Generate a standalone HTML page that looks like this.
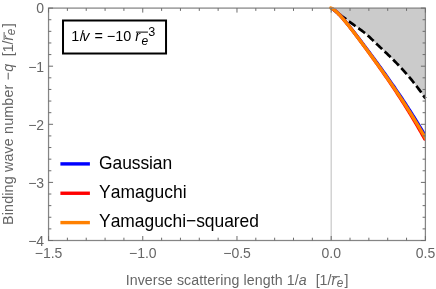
<!DOCTYPE html>
<html><head><meta charset="utf-8"><title>plot</title>
<style>
html,body{margin:0;padding:0;background:#fff;}
svg{display:block}
text{font-family:"Liberation Sans",sans-serif;font-kerning:none;}
</style></head>
<body>
<svg width="436" height="289" viewBox="0 0 436 289">
<defs><clipPath id="cp"><rect x="0" y="0" width="426" height="289"/></clipPath></defs>
<rect width="436" height="289" fill="#fff"/>
<path d="M331.00,8.20 L332.09,8.95 L333.18,9.72 L334.27,10.49 L335.34,11.26 L336.42,12.04 L337.49,12.83 L338.56,13.61 L339.63,14.41 L340.69,15.20 L341.75,16.00 L342.82,16.80 L343.88,17.59 L344.94,18.39 L346.00,19.19 L347.07,19.99 L348.13,20.78 L349.20,21.57 L350.26,22.36 L351.33,23.15 L352.41,23.93 L353.48,24.71 L354.56,25.49 L355.65,26.26 L356.73,27.03 L357.82,27.79 L358.90,28.56 L359.98,29.34 L361.06,30.12 L362.13,30.91 L363.18,31.71 L364.23,32.53 L365.26,33.37 L366.27,34.22 L367.27,35.09 L368.26,35.97 L369.25,36.87 L370.22,37.77 L371.19,38.68 L372.15,39.60 L373.11,40.52 L374.06,41.45 L375.02,42.37 L375.98,43.30 L376.94,44.22 L377.90,45.14 L378.87,46.05 L379.83,46.96 L380.80,47.87 L381.77,48.78 L382.74,49.69 L383.71,50.59 L384.68,51.50 L385.65,52.41 L386.61,53.32 L387.58,54.24 L388.54,55.15 L389.49,56.08 L390.45,57.00 L391.40,57.93 L392.34,58.86 L393.28,59.80 L394.22,60.74 L395.15,61.69 L396.08,62.64 L397.01,63.59 L397.93,64.55 L398.84,65.51 L399.76,66.48 L400.66,67.45 L401.57,68.43 L402.46,69.41 L403.36,70.39 L404.25,71.38 L405.13,72.37 L406.01,73.37 L406.88,74.37 L407.75,75.37 L408.62,76.38 L409.48,77.40 L410.33,78.41 L411.18,79.44 L412.02,80.46 L412.86,81.50 L413.70,82.53 L414.52,83.57 L415.35,84.62 L416.16,85.67 L416.97,86.72 L417.78,87.78 L418.58,88.84 L419.37,89.91 L420.16,90.98 L420.94,92.05 L421.71,93.13 L422.48,94.22 L423.25,95.31 L424.00,96.40 L424.76,97.50 L425.50,98.60 L425.4,8.1 L331.00,8.1 Z" fill="#cbcbcb"/>
<line x1="331.19" y1="8.1" x2="331.19" y2="240.5" stroke="#c8c8c8" stroke-width="1.2"/>
<path d="M331.00,8.20 L332.09,8.95 L333.18,9.72 L334.27,10.49 L335.34,11.26 L336.42,12.04 L337.49,12.83 L338.56,13.61 L339.63,14.41 L340.69,15.20 L341.75,16.00 L342.82,16.80 L343.88,17.59 L344.94,18.39 L346.00,19.19 L347.07,19.99 L348.13,20.78 L349.20,21.57 L350.26,22.36 L351.33,23.15 L352.41,23.93 L353.48,24.71 L354.56,25.49 L355.65,26.26 L356.73,27.03 L357.82,27.79 L358.90,28.56 L359.98,29.34 L361.06,30.12 L362.13,30.91 L363.18,31.71 L364.23,32.53 L365.26,33.37 L366.27,34.22 L367.27,35.09 L368.26,35.97 L369.25,36.87 L370.22,37.77 L371.19,38.68 L372.15,39.60 L373.11,40.52 L374.06,41.45 L375.02,42.37 L375.98,43.30 L376.94,44.22 L377.90,45.14 L378.87,46.05 L379.83,46.96 L380.80,47.87 L381.77,48.78 L382.74,49.69 L383.71,50.59 L384.68,51.50 L385.65,52.41 L386.61,53.32 L387.58,54.24 L388.54,55.15 L389.49,56.08 L390.45,57.00 L391.40,57.93 L392.34,58.86 L393.28,59.80 L394.22,60.74 L395.15,61.69 L396.08,62.64 L397.01,63.59 L397.93,64.55 L398.84,65.51 L399.76,66.48 L400.66,67.45 L401.57,68.43 L402.46,69.41 L403.36,70.39 L404.25,71.38 L405.13,72.37 L406.01,73.37 L406.88,74.37 L407.75,75.37 L408.62,76.38 L409.48,77.40 L410.33,78.41 L411.18,79.44 L412.02,80.46 L412.86,81.50 L413.70,82.53 L414.52,83.57 L415.35,84.62 L416.16,85.67 L416.97,86.72 L417.78,87.78 L418.58,88.84 L419.37,89.91 L420.16,90.98 L420.94,92.05 L421.71,93.13 L422.48,94.22 L423.25,95.31 L424.00,96.40 L424.76,97.50 L425.50,98.60" fill="none" stroke="#000" stroke-width="2.7" stroke-dasharray="8.24,3.47" stroke-dashoffset="1.18"/>
<g clip-path="url(#cp)" fill="none" stroke-linecap="round" stroke-linejoin="round">
<path d="M333.49,9.43 L334.18,9.92 L334.86,10.44 L335.55,11.00 L336.24,11.60 L336.92,12.22 L337.61,12.86 L338.30,13.53 L338.98,14.22 L339.67,14.93 L340.36,15.65 L341.05,16.40 L341.73,17.16 L342.42,17.93 L343.11,18.71 L343.80,19.51 L344.49,20.32 L345.17,21.13 L345.86,21.96 L346.55,22.79 L347.24,23.63 L347.93,24.48 L348.61,25.33 L349.30,26.19 L349.99,27.05 L350.68,27.92 L351.37,28.79 L352.05,29.67 L352.74,30.55 L353.43,31.43 L354.12,32.32 L354.81,33.21 L355.49,34.10 L356.18,34.99 L356.87,35.89 L357.56,36.79 L358.25,37.69 L358.93,38.59 L359.62,39.50 L360.31,40.41 L361.00,41.31 L361.69,42.22 L362.37,43.14 L363.06,44.05 L363.75,44.96 L364.44,45.88 L365.13,46.80 L365.82,47.71 L366.50,48.63 L367.19,49.56 L367.88,50.48 L368.57,51.40 L369.26,52.33 L369.95,53.25 L370.63,54.18 L371.32,55.11 L372.01,56.04 L372.70,56.97 L373.39,57.91 L374.08,58.84 L374.76,59.78 L375.45,60.72 L376.14,61.66 L376.83,62.60 L377.52,63.54 L378.21,64.49 L378.89,65.44 L379.58,66.38 L380.27,67.33 L380.96,68.29 L381.65,69.24 L382.34,70.20 L383.03,71.16 L383.71,72.12 L384.40,73.08 L385.09,74.04 L385.78,75.01 L386.47,75.98 L387.16,76.95 L387.85,77.93 L388.54,78.90 L389.22,79.88 L389.91,80.86 L390.60,81.85 L391.29,82.83 L391.98,83.82 L392.67,84.82 L393.36,85.81 L394.05,86.81 L394.74,87.81 L395.42,88.81 L396.11,89.82 L396.80,90.83 L397.49,91.84 L398.18,92.86 L398.87,93.88 L399.56,94.90 L400.25,95.93 L400.94,96.95 L401.63,97.99 L402.32,99.02 L403.01,100.06 L403.70,101.11 L404.39,102.15 L405.08,103.20 L405.76,104.26 L406.45,105.32 L407.14,106.38 L407.83,107.45 L408.52,108.52 L409.21,109.59 L409.90,110.67 L410.59,111.75 L411.28,112.84 L411.97,113.93 L412.66,115.02 L413.35,116.12 L414.04,117.23 L414.73,118.34 L415.42,119.45 L416.11,120.57 L416.80,121.69 L417.49,122.82 L418.18,123.95 L418.87,125.09 L419.56,126.23 L420.25,127.38 L420.94,128.53 L421.63,129.68 L422.33,130.85 L423.02,132.01 L423.71,133.18 L424.40,134.36 L425.09,135.54 L425.78,136.73 L426.47,137.93" stroke="#0000ff" stroke-width="3.3"/>
<path d="M333.48,9.44 L334.16,9.94 L334.84,10.47 L335.53,11.03 L336.21,11.63 L336.89,12.25 L337.57,12.90 L338.25,13.57 L338.94,14.27 L339.62,14.98 L340.30,15.71 L340.98,16.46 L341.66,17.22 L342.34,18.00 L343.02,18.79 L343.71,19.59 L344.39,20.40 L345.07,21.22 L345.75,22.05 L346.43,22.89 L347.11,23.73 L347.79,24.58 L348.47,25.44 L349.15,26.31 L349.83,27.17 L350.51,28.05 L351.19,28.93 L351.87,29.81 L352.55,30.69 L353.23,31.58 L353.91,32.48 L354.59,33.37 L355.27,34.27 L355.95,35.17 L356.63,36.07 L357.31,36.98 L357.99,37.89 L358.67,38.79 L359.35,39.71 L360.03,40.62 L360.71,41.53 L361.38,42.45 L362.06,43.37 L362.74,44.29 L363.42,45.21 L364.10,46.13 L364.78,47.06 L365.46,47.98 L366.13,48.91 L366.81,49.84 L367.49,50.77 L368.17,51.70 L368.84,52.63 L369.52,53.56 L370.20,54.50 L370.88,55.44 L371.55,56.37 L372.23,57.31 L372.91,58.26 L373.59,59.20 L374.26,60.14 L374.94,61.09 L375.62,62.04 L376.29,62.99 L376.97,63.94 L377.65,64.89 L378.32,65.85 L379.00,66.80 L379.68,67.76 L380.35,68.72 L381.03,69.68 L381.70,70.65 L382.38,71.61 L383.05,72.58 L383.73,73.55 L384.40,74.53 L385.08,75.50 L385.75,76.48 L386.43,77.46 L387.10,78.44 L387.78,79.43 L388.45,80.42 L389.13,81.41 L389.80,82.40 L390.48,83.39 L391.15,84.39 L391.82,85.39 L392.50,86.40 L393.17,87.40 L393.84,88.41 L394.52,89.43 L395.19,90.44 L395.86,91.46 L396.54,92.48 L397.21,93.51 L397.88,94.54 L398.55,95.57 L399.23,96.60 L399.90,97.64 L400.57,98.68 L401.24,99.73 L401.91,100.78 L402.59,101.83 L403.26,102.89 L403.93,103.95 L404.60,105.01 L405.27,106.08 L405.94,107.15 L406.61,108.22 L407.28,109.30 L407.95,110.39 L408.62,111.48 L409.29,112.57 L409.96,113.66 L410.63,114.76 L411.30,115.87 L411.97,116.98 L412.64,118.09 L413.31,119.21 L413.98,120.33 L414.64,121.46 L415.31,122.59 L415.98,123.73 L416.65,124.87 L417.32,126.02 L417.98,127.17 L418.65,128.33 L419.32,129.49 L419.98,130.65 L420.65,131.83 L421.32,133.00 L421.98,134.18 L422.65,135.37 L423.31,136.56 L423.98,137.76 L424.64,138.97" stroke="#ff0000" stroke-width="3.2"/>
<path d="M330.75,7.90 L331.43,8.21 L332.11,8.58 L332.80,8.99 L333.48,9.44 L334.16,9.94 L334.84,10.47 L335.53,11.03 L336.21,11.63 L336.89,12.25 L337.57,12.90 L338.26,13.57 L338.94,14.26 L339.62,14.98 L340.30,15.71 L340.99,16.45 L341.67,17.22 L342.35,17.99 L343.03,18.78 L343.72,19.58 L344.40,20.39 L345.08,21.21 L345.76,22.04 L346.44,22.87 L347.13,23.72 L347.81,24.57 L348.49,25.43 L349.17,26.29 L349.86,27.15 L350.54,28.03 L351.22,28.90 L351.90,29.78 L352.59,30.67 L353.27,31.56 L353.95,32.45 L354.63,33.34 L355.32,34.24 L356.00,35.13 L356.68,36.03 L357.36,36.94 L358.04,37.84 L358.73,38.75 L359.41,39.66 L360.09,40.57 L360.77,41.48 L361.46,42.40 L362.14,43.31 L362.82,44.23 L363.50,45.15 L364.19,46.07 L364.87,46.99 L365.55,47.91 L366.23,48.83 L366.92,49.76 L367.60,50.69 L368.28,51.61 L368.96,52.54 L369.65,53.47 L370.33,54.41 L371.01,55.34 L371.69,56.27 L372.37,57.21 L373.06,58.15 L373.74,59.09 L374.42,60.03 L375.10,60.97 L375.79,61.91 L376.47,62.86 L377.15,63.81 L377.83,64.76 L378.52,65.71 L379.20,66.66 L379.88,67.61 L380.56,68.57 L381.25,69.53 L381.93,70.49 L382.61,71.45 L383.29,72.41 L383.98,73.38 L384.66,74.35 L385.34,75.32 L386.02,76.29 L386.70,77.27 L387.39,78.25 L388.07,79.23 L388.75,80.21 L389.43,81.19 L390.12,82.18 L390.80,83.17 L391.48,84.16 L392.16,85.16 L392.85,86.16 L393.53,87.16 L394.21,88.16 L394.89,89.17 L395.58,90.18 L396.26,91.20 L396.94,92.21 L397.62,93.23 L398.31,94.25 L398.99,95.28 L399.67,96.31 L400.35,97.34 L401.03,98.38 L401.72,99.42 L402.40,100.46 L403.08,101.51 L403.76,102.56 L404.45,103.61 L405.13,104.67 L405.81,105.73 L406.49,106.80 L407.18,107.86 L407.86,108.94 L408.54,110.02 L409.22,111.10 L409.91,112.18 L410.59,113.27 L411.27,114.37 L411.95,115.46 L412.63,116.57 L413.32,117.67 L414.00,118.79 L414.68,119.90 L415.36,121.02 L416.05,122.15 L416.73,123.28 L417.41,124.41 L418.09,125.55 L418.78,126.70 L419.46,127.85 L420.14,129.00 L420.82,130.16 L421.51,131.32 L422.19,132.49 L422.87,133.67 L423.55,134.85 L424.24,136.03 L424.92,137.23 L425.60,138.42" stroke="#ff8000" stroke-width="3.3"/>
</g>
<rect x="48.55" y="8.1" width="376.84999999999997" height="232.4" fill="none" stroke="#858585" stroke-width="1.25"/>
<g stroke="#6c6c6c" stroke-width="1" fill="none">
<line x1="48.55" y1="240.5" x2="48.55" y2="236.0"/>
<line x1="48.55" y1="8.1" x2="48.55" y2="12.6"/>
<line x1="67.39" y1="240.5" x2="67.39" y2="237.7"/>
<line x1="67.39" y1="8.1" x2="67.39" y2="10.899999999999999"/>
<line x1="86.23" y1="240.5" x2="86.23" y2="237.7"/>
<line x1="86.23" y1="8.1" x2="86.23" y2="10.899999999999999"/>
<line x1="105.08" y1="240.5" x2="105.08" y2="237.7"/>
<line x1="105.08" y1="8.1" x2="105.08" y2="10.899999999999999"/>
<line x1="123.92" y1="240.5" x2="123.92" y2="237.7"/>
<line x1="123.92" y1="8.1" x2="123.92" y2="10.899999999999999"/>
<line x1="142.76" y1="240.5" x2="142.76" y2="236.0"/>
<line x1="142.76" y1="8.1" x2="142.76" y2="12.6"/>
<line x1="161.61" y1="240.5" x2="161.61" y2="237.7"/>
<line x1="161.61" y1="8.1" x2="161.61" y2="10.899999999999999"/>
<line x1="180.45" y1="240.5" x2="180.45" y2="237.7"/>
<line x1="180.45" y1="8.1" x2="180.45" y2="10.899999999999999"/>
<line x1="199.29" y1="240.5" x2="199.29" y2="237.7"/>
<line x1="199.29" y1="8.1" x2="199.29" y2="10.899999999999999"/>
<line x1="218.13" y1="240.5" x2="218.13" y2="237.7"/>
<line x1="218.13" y1="8.1" x2="218.13" y2="10.899999999999999"/>
<line x1="236.97" y1="240.5" x2="236.97" y2="236.0"/>
<line x1="236.97" y1="8.1" x2="236.97" y2="12.6"/>
<line x1="255.82" y1="240.5" x2="255.82" y2="237.7"/>
<line x1="255.82" y1="8.1" x2="255.82" y2="10.899999999999999"/>
<line x1="274.66" y1="240.5" x2="274.66" y2="237.7"/>
<line x1="274.66" y1="8.1" x2="274.66" y2="10.899999999999999"/>
<line x1="293.50" y1="240.5" x2="293.50" y2="237.7"/>
<line x1="293.50" y1="8.1" x2="293.50" y2="10.899999999999999"/>
<line x1="312.35" y1="240.5" x2="312.35" y2="237.7"/>
<line x1="312.35" y1="8.1" x2="312.35" y2="10.899999999999999"/>
<line x1="331.19" y1="240.5" x2="331.19" y2="236.0"/>
<line x1="331.19" y1="8.1" x2="331.19" y2="12.6"/>
<line x1="350.03" y1="240.5" x2="350.03" y2="237.7"/>
<line x1="350.03" y1="8.1" x2="350.03" y2="10.899999999999999"/>
<line x1="368.87" y1="240.5" x2="368.87" y2="237.7"/>
<line x1="368.87" y1="8.1" x2="368.87" y2="10.899999999999999"/>
<line x1="387.71" y1="240.5" x2="387.71" y2="237.7"/>
<line x1="387.71" y1="8.1" x2="387.71" y2="10.899999999999999"/>
<line x1="406.56" y1="240.5" x2="406.56" y2="237.7"/>
<line x1="406.56" y1="8.1" x2="406.56" y2="10.899999999999999"/>
<line x1="425.40" y1="240.5" x2="425.40" y2="236.0"/>
<line x1="425.40" y1="8.1" x2="425.40" y2="12.6"/>
<line x1="48.55" y1="8.10" x2="53.05" y2="8.10"/>
<line x1="425.4" y1="8.10" x2="420.9" y2="8.10"/>
<line x1="48.55" y1="19.72" x2="51.349999999999994" y2="19.72"/>
<line x1="425.4" y1="19.72" x2="422.59999999999997" y2="19.72"/>
<line x1="48.55" y1="31.34" x2="51.349999999999994" y2="31.34"/>
<line x1="425.4" y1="31.34" x2="422.59999999999997" y2="31.34"/>
<line x1="48.55" y1="42.96" x2="51.349999999999994" y2="42.96"/>
<line x1="425.4" y1="42.96" x2="422.59999999999997" y2="42.96"/>
<line x1="48.55" y1="54.58" x2="51.349999999999994" y2="54.58"/>
<line x1="425.4" y1="54.58" x2="422.59999999999997" y2="54.58"/>
<line x1="48.55" y1="66.20" x2="53.05" y2="66.20"/>
<line x1="425.4" y1="66.20" x2="420.9" y2="66.20"/>
<line x1="48.55" y1="77.82" x2="51.349999999999994" y2="77.82"/>
<line x1="425.4" y1="77.82" x2="422.59999999999997" y2="77.82"/>
<line x1="48.55" y1="89.44" x2="51.349999999999994" y2="89.44"/>
<line x1="425.4" y1="89.44" x2="422.59999999999997" y2="89.44"/>
<line x1="48.55" y1="101.06" x2="51.349999999999994" y2="101.06"/>
<line x1="425.4" y1="101.06" x2="422.59999999999997" y2="101.06"/>
<line x1="48.55" y1="112.68" x2="51.349999999999994" y2="112.68"/>
<line x1="425.4" y1="112.68" x2="422.59999999999997" y2="112.68"/>
<line x1="48.55" y1="124.30" x2="53.05" y2="124.30"/>
<line x1="425.4" y1="124.30" x2="420.9" y2="124.30"/>
<line x1="48.55" y1="135.92" x2="51.349999999999994" y2="135.92"/>
<line x1="425.4" y1="135.92" x2="422.59999999999997" y2="135.92"/>
<line x1="48.55" y1="147.54" x2="51.349999999999994" y2="147.54"/>
<line x1="425.4" y1="147.54" x2="422.59999999999997" y2="147.54"/>
<line x1="48.55" y1="159.16" x2="51.349999999999994" y2="159.16"/>
<line x1="425.4" y1="159.16" x2="422.59999999999997" y2="159.16"/>
<line x1="48.55" y1="170.78" x2="51.349999999999994" y2="170.78"/>
<line x1="425.4" y1="170.78" x2="422.59999999999997" y2="170.78"/>
<line x1="48.55" y1="182.40" x2="53.05" y2="182.40"/>
<line x1="425.4" y1="182.40" x2="420.9" y2="182.40"/>
<line x1="48.55" y1="194.02" x2="51.349999999999994" y2="194.02"/>
<line x1="425.4" y1="194.02" x2="422.59999999999997" y2="194.02"/>
<line x1="48.55" y1="205.64" x2="51.349999999999994" y2="205.64"/>
<line x1="425.4" y1="205.64" x2="422.59999999999997" y2="205.64"/>
<line x1="48.55" y1="217.26" x2="51.349999999999994" y2="217.26"/>
<line x1="425.4" y1="217.26" x2="422.59999999999997" y2="217.26"/>
<line x1="48.55" y1="228.88" x2="51.349999999999994" y2="228.88"/>
<line x1="425.4" y1="228.88" x2="422.59999999999997" y2="228.88"/>
<line x1="48.55" y1="240.50" x2="53.05" y2="240.50"/>
<line x1="425.4" y1="240.50" x2="420.9" y2="240.50"/>
</g>
<!-- legend lines -->
<g stroke-width="3.4" fill="none">
<line x1="60.4" y1="163.9" x2="89.9" y2="163.9" stroke="#0000ff"/>
<line x1="60.4" y1="193.25" x2="89.9" y2="193.25" stroke="#ff0000"/>
<line x1="60.4" y1="222.6" x2="89.9" y2="222.6" stroke="#ff8000"/>
</g>
<g style="filter:grayscale(1)" transform="scale(1.0002)">
<g font-size="14.0" fill="#666666">
<text x="34.73" y="257.7">−1.5</text>
<text x="128.94" y="257.7">−1.0</text>
<text x="223.16" y="257.7">−0.5</text>
<text x="321.46" y="257.7">0.0</text>
<text x="415.67" y="257.7">0.5</text>
<text x="36.31" y="12.9">0</text>
<text x="28.14" y="71.9">−1</text>
<text x="28.14" y="129.9">−2</text>
<text x="28.14" y="187.9">−3</text>
<text x="28.14" y="245.9">−4</text>
</g>
<!-- parameter box -->
<rect x="63" y="20.5" width="103" height="33" fill="#fff" stroke="#000" stroke-width="2"/>
<g font-size="14.4" fill="#000">
<text x="71.2" y="40.7">1<tspan dx="0.5">/</tspan><tspan font-style="italic" dx="-1.5">v</tspan><tspan dx="1.0"> = −10</tspan></text>
<text x="135.2" y="40.7" font-style="italic">r</text>
<line x1="135.9" y1="32.1" x2="147.9" y2="32.1" stroke="#000" stroke-width="1"/>
<text transform="translate(141.4,44.6) scale(1.0002)" font-size="12" font-style="italic">e</text>
<text x="148.2" y="35.6" font-size="12.6">3</text>
</g>
<g font-size="17.45" fill="#000">
<text transform="translate(99.1,168.5) scale(1,1.055)" x="0" y="0" textLength="73.0" lengthAdjust="spacing">Gaussian</text>
<text transform="translate(99.1,197.8) scale(1,1.055)" x="0" y="0" textLength="87.4" lengthAdjust="spacing">Yamaguchi</text>
<text transform="translate(99.1,227.2) scale(1,1.055)" x="0" y="0" textLength="159.8" lengthAdjust="spacing">Yamaguchi−squared</text>
</g>
<!-- axis labels -->
<g font-size="14.2" fill="#666666">
<g transform="translate(125.6,285.1) scale(1,1.06)">
<text x="0" y="0" textLength="181.0" lengthAdjust="spacing">Inverse scattering length 1/<tspan font-style="italic">a</tspan></text>
<text x="190.00" y="0">[1/</text>
<text x="205.79" y="0" font-style="italic">r</text>
<line x1="206.09" y1="-8.0" x2="214.29" y2="-8.0" stroke="#666666" stroke-width="0.95"/>
<text x="210.99" y="1.8" font-size="11.8" font-style="italic">e</text>
<text x="218.89" y="0">]</text>
</g>
<g transform="translate(12.6,224.95) rotate(-90) scale(1,1.06)">
<text x="0" y="0" textLength="161.0" lengthAdjust="spacing">Binding wave number −<tspan font-style="italic">q</tspan></text>
<text x="168.75" y="0">[1/</text>
<text x="184.54" y="0" font-style="italic">r</text>
<line x1="184.84" y1="-8.0" x2="193.04" y2="-8.0" stroke="#666666" stroke-width="0.95"/>
<text x="189.74" y="1.8" font-size="11.8" font-style="italic">e</text>
<text x="197.64" y="0">]</text>
</g>
</g>
</g>
</svg>
</body></html>
